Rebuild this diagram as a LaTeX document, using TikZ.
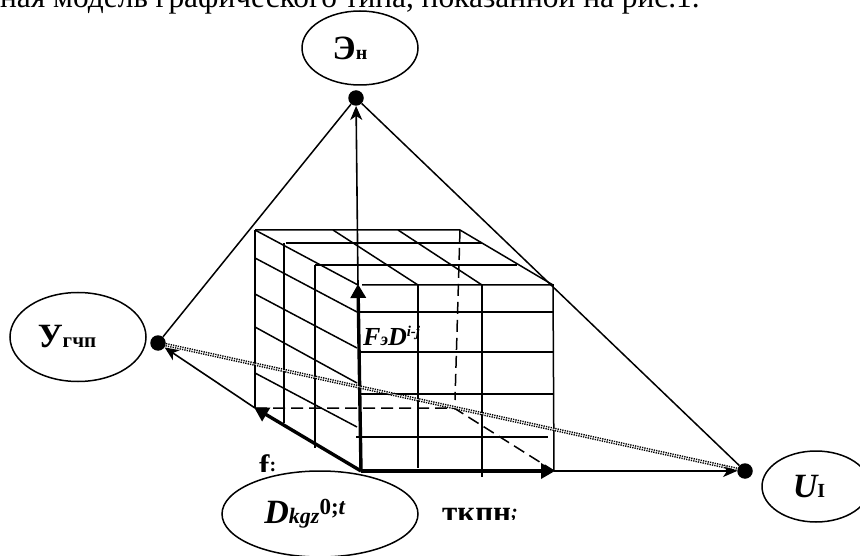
\documentclass[tikz,border=0pt]{standalone}
\usepackage{fontspec}
\setmainfont{Liberation Serif}
\usepackage{tikz}
\usetikzlibrary{arrows.meta,shapes.geometric,positioning,calc}

\begin{document}
\begin{tikzpicture}[
    x=1pt, y=-1pt,
    oval/.style={ellipse, draw, line width=1.5pt, inner sep=0pt},
    dot/.style={circle, fill=black, inner sep=0pt, minimum size=15.5pt},
    grid/.style={line width=1.5pt},
    hidden/.style={line width=1.5pt, dash pattern=on 12pt off 6pt},
    edge/.style={line width=1.5pt},
    arrow/.style={line width=1.6pt, -{Stealth[length=14pt,width=12pt,inset=4pt]}},
    bigarrow/.style={line width=3.4pt, -{Triangle[length=14pt,width=15pt]}, shorten >=-1pt},
    ray/.style={line width=3.6pt, dash pattern=on 1.3pt off 1.1pt, postaction={draw=white, solid, line width=.6pt}},
    big/.style={font=\fontsize{34}{36}\selectfont\bfseries},
    lab/.style={inner sep=0pt}
]
\useasboundingbox (0,0) rectangle (860,556);

% header line
\node[anchor=base west, inner sep=0pt, font=\fontsize{31.4}{34}\selectfont] (head) at (0,8)
    {ная модель графического типа, показанной на рис.1.};

% ovals
\node[oval, big, minimum width=116pt, minimum height=74pt] (En) at (360,48)
    {Э{\fontsize{20}{22}\selectfont н}\hspace*{20pt}};
\node[oval, big, minimum width=136pt, minimum height=89pt] (Ygchp) at (78,337)
    {У{\fontsize{21}{22}\selectfont гчп}\hspace*{22pt}};
\node[oval, big, minimum width=196pt, minimum height=86pt] (Dkgz) at (320,514)
    {\itshape D{\fontsize{22}{22}\selectfont kgz}$^{\hbox{\upshape\fontsize{23}{23}\selectfont 0;\itshape t}}$\hspace*{30pt}};
\node[oval, big, minimum width=108pt, minimum height=71pt] (UI) at (816,486.5)
    {\itshape U{\upshape\fontsize{20}{22}\selectfont I}\hspace*{14pt}};

% dots
\node[dot] (dotEn) at (356,98) {};
\node[dot] (dotY) at (158,343) {};
\node[dot] (dotU) at (745,471) {};

% cube corners
\coordinate (A) at (255,230);
\coordinate (B) at (460,230);
\coordinate (C) at (553,285);
\coordinate (D) at (358,285);
\coordinate (O) at (361,471);
\coordinate (E) at (554,471);
\coordinate (F) at (255,408);
\coordinate (G) at (454,408);

% top face
\draw[grid] (A) -- (B) -- (C);
\draw[grid] (A) -- (D);
\draw[grid] (286,243) -- (482,243);
\draw[grid] (315,265) -- (517,265);
\draw[grid] (333,230) -- (418,285);
\draw[grid] (398,230) -- (482,285);

% left face
\draw[grid] (A) -- (F);
\draw[grid] (284,243) -- (284,423);
\draw[grid] (315,265) -- (315,448);
\draw[grid] (255,258) -- (357,312);
\draw[grid] (255,294) -- (357,348);
\draw[grid] (255,327) -- (357,383);
\draw[grid] (255,373) -- (357,427);

% front face
\draw[grid] (362,285) -- (C) -- (E);
\draw[grid] (360,312) -- (553,312);
\draw[grid] (360,352) -- (553,352);
\draw[grid] (360,394) -- (553,394);
\draw[grid] (356,437) -- (548,437);
\draw[grid] (418,285) -- (418,468);
\draw[grid] (482,285) -- (482,477);

% hidden edges
\draw[hidden] (F) -- (G) -- (E);
\draw[hidden] (B) -- (455,400);

% axes
\draw[bigarrow] (O) -- (D);
\draw[bigarrow] (O) -- (F);
\draw[bigarrow] (O) -- (E);
\draw[arrow] (D) -- (dotEn);
\draw[arrow] (F) -- (dotY);
\draw[arrow] (E) -- (dotU);

% pyramid
\draw[edge] (dotEn) -- (dotY);
\draw[edge] (dotEn) -- (dotU);
\draw[ray] (dotY) -- (dotU);

% labels
\node[lab, anchor=base west, font=\fontsize{26}{28}\selectfont\bfseries\itshape] (FeD) at (363,345)
    {F{\fontsize{18}{18}\selectfont э}D{\raisebox{9pt}{\fontsize{15}{16}\selectfont i-j}}};
\begin{scope}
\clip (250,440) rectangle (290,471);
\node[lab, anchor=base west, font=\fontsize{31}{34}\selectfont\bfseries] (fi) at (259,476) {f{\raisebox{5pt}{\fontsize{20}{22}\selectfont :}}};
\end{scope}
\begin{scope}
\clip (435,495) rectangle (530,519);
\node[lab, anchor=base west, font=\fontsize{31}{34}\selectfont\bfseries] (tkpn) at (442,522)
    {ткпн{\raisebox{4pt}{\fontsize{20}{22}\selectfont\itshape ;}}};
\end{scope}

\end{tikzpicture}
\end{document}
